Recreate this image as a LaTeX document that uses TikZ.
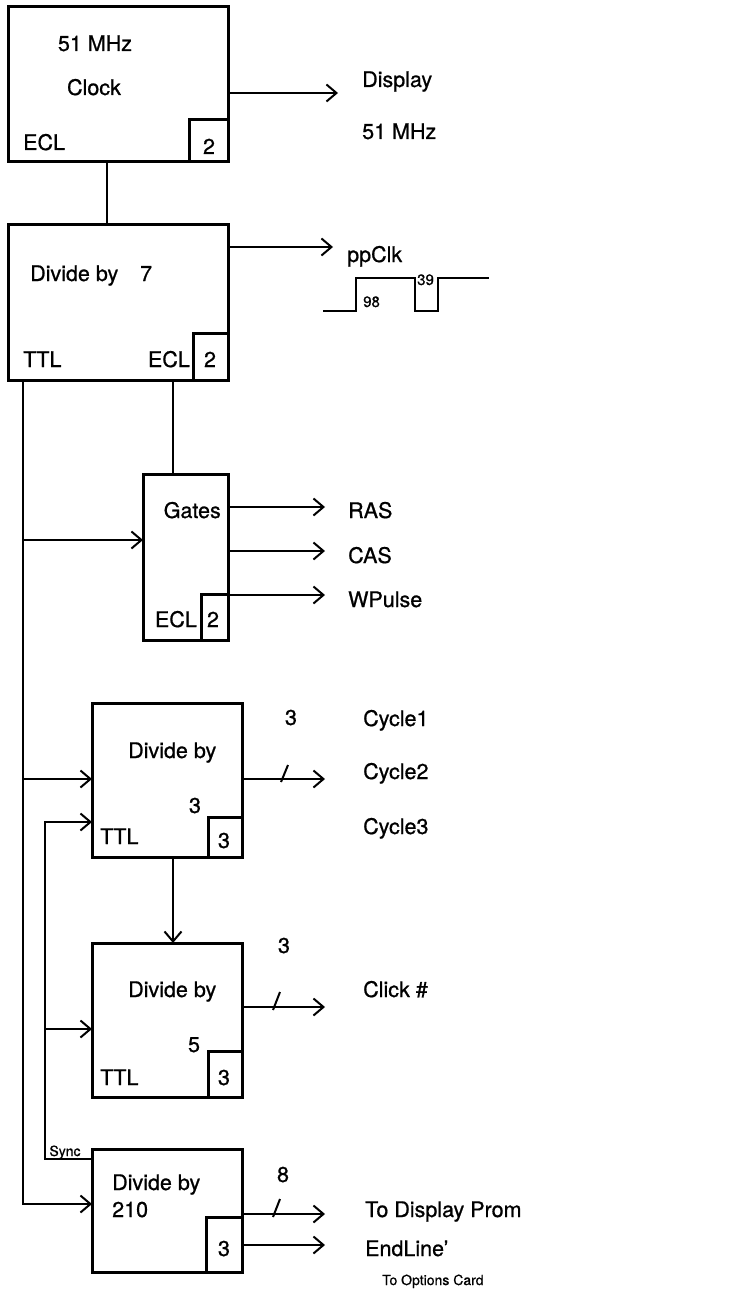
\documentclass[tikz,border=0pt]{standalone}
\usepackage{fontspec}
\setmainfont{TeX Gyre Heros}
\newfontfamily\hvb{TeX Gyre Heros}[FakeBold=0.8,Ligatures=TeX]
\usetikzlibrary{arrows.meta,calc}
\begin{document}
\begin{tikzpicture}[x=1pt,y=-1pt,
  blk/.style={draw,line width=3pt,inner sep=0,outer sep=0,anchor=north west},
  subbox/.style={draw,line width=3pt,inner sep=0,outer sep=0,anchor=south east},
  lbl/.style={inner sep=0,font=\hvb\fontsize{21.5}{25}\selectfont},
  sml/.style={inner sep=0,font=\hvb\fontsize{14}{17}\selectfont},
  wire/.style={line width=2pt},
  thinwire/.style={line width=1.6pt},
  arr/.style={wire,-{Straight Barb[length=10pt,width=17pt]}},
]
\useasboundingbox (0,0) rectangle (743,1289);

% ---------- blocks ----------
\node[blk,minimum width=220pt,minimum height=155pt] (clk) at (8,7) {};
\node[subbox,minimum width=39pt,minimum height=42pt] (clks) at (clk.south east) {};
\node[blk,minimum width=220pt,minimum height=155pt] (div7) at (8,225) {};
\node[subbox,minimum width=35pt,minimum height=47pt] (div7s) at (div7.south east) {};
\node[blk,minimum width=85pt,minimum height=166pt] (gates) at (143,474) {};
\node[subbox,minimum width=27pt,minimum height=46pt] (gatess) at (gates.south east) {};
\node[blk,minimum width=150pt,minimum height=154pt] (div3) at (92,703) {};
\node[subbox,minimum width=34pt,minimum height=40pt] (div3s) at (div3.south east) {};
\node[blk,minimum width=150pt,minimum height=154pt] (div5) at (92,943) {};
\node[subbox,minimum width=34pt,minimum height=46pt] (div5s) at (div5.south east) {};
\node[blk,minimum width=150pt,minimum height=123pt] (div210) at (92,1149) {};
\node[subbox,minimum width=36pt,minimum height=55pt] (div210s) at (div210.south east) {};

% ---------- texts in blocks ----------
\node[lbl,anchor=base] (clkA) at (95,51) {51 MHz};
\node[lbl,anchor=base] (clkB) at (94,95) {Clock};
\node[lbl,anchor=base west] (clkC) at (23,150) {ECL};
\node[lbl,anchor=base] (clkD) at (209,154) {2};

\node[lbl,anchor=base west] (d7A) at (30,281) {Divide by};
\node[lbl,anchor=base west] (d7B) at (140,281) {7};
\node[lbl,anchor=base west] (d7C) at (23,367) {TTL};
\node[lbl,anchor=base east] (d7D) at (190,367) {ECL};
\node[lbl,anchor=base] (d7E) at (210,367) {2};

\node[lbl,anchor=base east] (gA) at (221,518) {Gates};
\node[lbl,anchor=base east] (gB) at (197,627) {ECL};
\node[lbl,anchor=base] (gC) at (213,627) {2};

\node[lbl,anchor=base west] (d3A) at (128,758) {Divide by};
\node[lbl,anchor=base] (d3B) at (195,813) {3};
\node[lbl,anchor=base west] (d3C) at (100,844) {TTL};
\node[lbl,anchor=base] (d3D) at (224,848) {3};

\node[lbl,anchor=base west] (d5A) at (128,997) {Divide by};
\node[lbl,anchor=base] (d5B) at (194,1052) {5};
\node[lbl,anchor=base west] (d5C) at (100,1085) {TTL};
\node[lbl,anchor=base] (d5D) at (224,1085) {3};

\node[lbl,anchor=base west] (d210A) at (112,1190) {Divide by};
\node[lbl,anchor=base west] (d210B) at (112,1217) {210};
\node[lbl,anchor=base] (d210C) at (224,1256) {3};

% ---------- outside texts ----------
\node[lbl,anchor=base west] (disp) at (362,87) {Display};
\node[lbl,anchor=base west] (dispf) at (362,139) {51 MHz};
\node[lbl,anchor=base west] (ppclk) at (347,262) {ppClk};
\node[sml,font=\hvb\fontsize{15}{18}\selectfont,anchor=base west] (n98) at (363,307) {98};
\node[sml,font=\hvb\fontsize{15}{18}\selectfont,anchor=base west] (n39) at (417,285) {39};

\node[lbl,anchor=base west] (ras) at (348,518) {RAS};
\node[lbl,anchor=base west] (cas) at (348,563) {CAS};
\node[lbl,anchor=base west] (wp) at (348,607) {WPulse};

\node[lbl,anchor=base] (w3a) at (291,725) {3};
\node[lbl,anchor=base west] (cy1) at (363,726) {Cycle1};
\node[lbl,anchor=base west] (cy2) at (363,779) {Cycle2};
\node[lbl,anchor=base west] (cy3) at (363,834) {Cycle3};

\node[lbl,anchor=base] (w3b) at (284,953) {3};
\node[lbl,anchor=base west] (click) at (363,997) {Click \#};

\node[sml,anchor=base] (sync) at (65,1156) {Sync};
\node[lbl,anchor=base] (w8) at (283,1182) {8};
\node[lbl,anchor=base west] (prom) at (365,1217) {To Display Prom};
\node[lbl,anchor=base west] (endl) at (365,1256) {EndLine’};
\node[sml,anchor=base west] (opt) at (382,1285) {To Options Card};

% ---------- coordinates ----------
\coordinate (dispE) at (338,93);
\coordinate (ppE) at (333,247);
\coordinate (clkx) at (107,0);
\coordinate (ttlx) at (23,0);
\coordinate (eclx) at (173,0);
\coordinate (syncx) at (45,0);
\coordinate (rasE) at (325,507);
\coordinate (casE) at (325,551);
\coordinate (wpE) at (325,595);
\coordinate (gIn) at (143,540);
\coordinate (d3In1) at (92,779);
\coordinate (d3In2) at (92,822);
\coordinate (d3Out) at (325,779);
\coordinate (d5In) at (92,1029);
\coordinate (d5Out) at (325,1007);
\coordinate (syncP) at (92,1159);
\coordinate (d210In) at (92,1204);
\coordinate (promE) at (325,1214);
\coordinate (endE) at (325,1245);

% ---------- connectors ----------
\draw[arr] (clk.east |- dispE) -- (dispE);
\draw[wire] (clk.south -| clkx) -- (div7.north -| clkx);
\draw[arr] (div7.east |- ppE) -- (ppE);
\draw[thinwire] (div7.south -| eclx) -- (gates.north -| eclx);

% TTL bus
\draw[arr] (div7.south -| ttlx) |- (d210In);
\draw[arr] (ttlx |- gIn) -- (gIn);
\draw[arr] (ttlx |- d3In1) -- (d3In1);

% gates outputs
\draw[arr] (gates.east |- rasE) -- (rasE);
\draw[arr] (gates.east |- casE) -- (casE);
\draw[arr] (gates.east |- wpE) -- (wpE);

% sync loop
\draw[arr] (syncP) -| (syncx |- d3In2) -- (d3In2);
\draw[arr] (syncx |- d5In) -- (d5In);

% divider chain
\draw[arr] (div3.south -| eclx) -- (div5.north -| eclx);

% outputs with bus slashes
\draw[arr] (div3.east |- d3Out) -- (d3Out);
\draw[wire] (281,782) -- (288,765);
\draw[arr] (div5.east |- d5Out) -- (d5Out);
\draw[wire] (273,1010) -- (280,992);
\draw[arr] (div210.east |- promE) -- (promE);
\draw[wire] (273,1217) -- (280,1199);
\draw[arr] (div210s.east |- endE) -- (endE);

% ppClk waveform
\draw[wire] (323,311) -- (356,311) -- (356,278) -- (415,278) -- (415,311)
  -- (438,311) -- (438,278) -- (489,278);
\end{tikzpicture}
\end{document}
